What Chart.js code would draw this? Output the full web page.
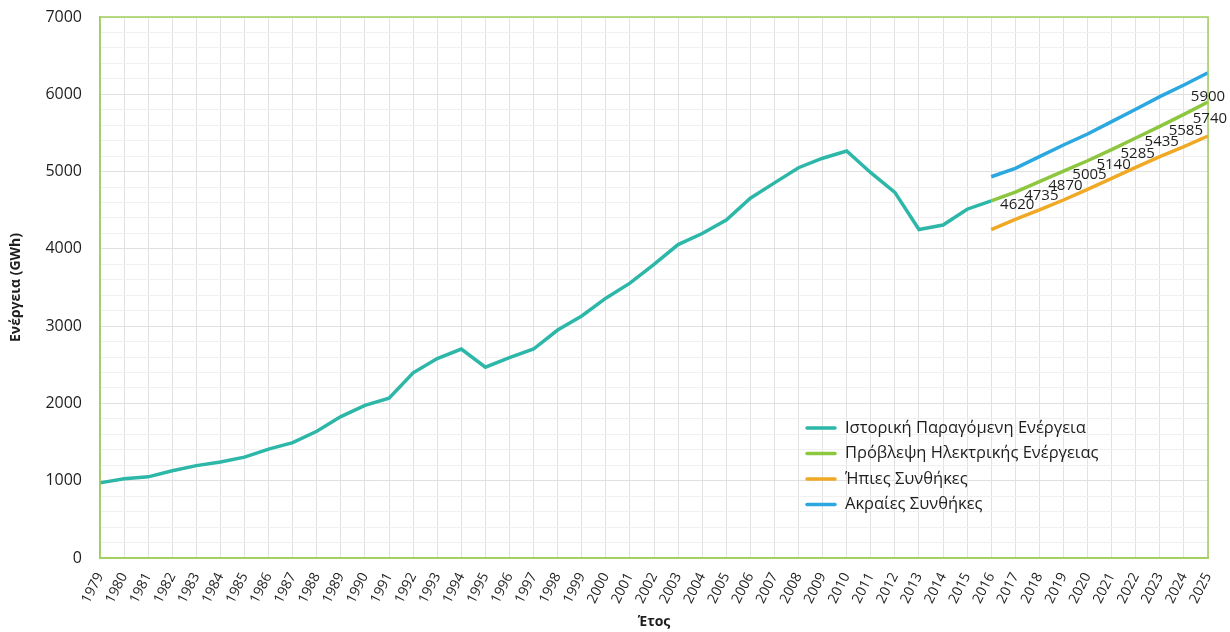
<!DOCTYPE html>
<html>
<head>
<meta charset="utf-8">
<script src="https://cdn.jsdelivr.net/npm/chart.js@4.4.0/dist/chart.umd.min.js"></script>
<style>
  html, body { margin: 0; padding: 0; background: #ffffff; }
  #wrap { width: 1230px; height: 632px; position: relative; }
</style>
</head>
<body>
<div id="wrap"><canvas id="c" width="1230" height="632"></canvas></div>
<script>
// ---- Data ----
const years = ['1979','1980','1981','1982','1983','1984','1985','1986','1987','1988','1989','1990','1991','1992','1993','1994','1995','1996','1997','1998','1999','2000','2001','2002','2003','2004','2005','2006','2007','2008','2009','2010','2011','2012','2013','2014','2015','2016','2017','2018','2019','2020','2021','2022','2023','2024','2025'];

const historical = [972, 1024, 1050, 1128, 1195, 1242, 1305, 1408, 1493, 1640, 1830, 1974, 2068, 2396, 2580, 2704, 2469, 2593, 2704, 2950, 3131, 3362, 3556, 3798, 4055, 4198, 4373, 4656, 4854, 5050, 5173, 5266, 4985, 4731, 4250, 4308, 4513, 4620];

// forecasts 2016..2025
const forecastYears = ['2016','2017','2018','2019','2020','2021','2022','2023','2024','2025'];
const forecast = [4620, 4735, 4870, 5005, 5140, 5285, 5435, 5585, 5740, 5900];
const mild =     [4250, 4382, 4503, 4632, 4770, 4913, 5055, 5193, 5322, 5460];
const extreme =  [4933, 5042, 5193, 5344, 5486, 5646, 5806, 5970, 6120, 6279];

const seriesNames = ['Ιστορική Παραγόμενη Ενέργεια', 'Πρόβλεψη Ηλεκτρικής Ενέργειας', 'Ήπιες Συνθήκες', 'Ακραίες Συνθήκες'];
const yTickLabels = [0, 1000, 2000, 3000, 4000, 5000, 6000, 7000];

// ---- helpers ----
function alignToYears(subYears, values) {
  return years.map(y => {
    const i = subYears.indexOf(y);
    return i >= 0 ? values[i] : null;
  });
}

const colors = ['#2db7a9', '#8dc63f', '#f0a925', '#2ba8e0'];
const textColor = '#1e1e1e';
const frameColor = '#9fcf5a';

const datasets = [
  { label: seriesNames[0], data: historical.concat(new Array(years.length - historical.length).fill(null)), borderColor: colors[0], backgroundColor: colors[0], order: 1 },
  { label: seriesNames[1], data: alignToYears(forecastYears, forecast), borderColor: colors[1], backgroundColor: colors[1], order: 2 },
  { label: seriesNames[2], data: alignToYears(forecastYears, mild), borderColor: colors[2], backgroundColor: colors[2], order: 3 },
  { label: seriesNames[3], data: alignToYears(forecastYears, extreme), borderColor: colors[3], backgroundColor: colors[3], order: 4 }
].map(d => Object.assign(d, { borderWidth: 3.5, pointRadius: 0, pointHoverRadius: 0, tension: 0, fill: false, spanGaps: false }));

// frame (top/right borders)
const framePlugin = {
  id: 'frame',
  afterDatasetsDraw(chart) {
    const { ctx, chartArea: a } = chart;
    ctx.save();
    ctx.strokeStyle = frameColor;
    ctx.lineWidth = 1.5;
    ctx.strokeRect(a.left, a.top, a.right - a.left, a.bottom - a.top);
    ctx.restore();
  }
};

// value labels on forecast series
const valueLabelPlugin = {
  id: 'valueLabels',
  afterDatasetsDraw(chart) {
    const { ctx, chartArea: a } = chart;
    const meta = chart.getDatasetMeta(1);
    const data = chart.data.datasets[1].data;
    ctx.save();
    ctx.font = '15px "Open Sans", sans-serif';
    ctx.fillStyle = textColor;
    ctx.textAlign = 'center';
    ctx.textBaseline = 'middle';
    meta.data.forEach((pt, i) => {
      const v = data[i];
      if (v === null || v === undefined) return;
      let x = pt.x + 26, y = pt.y + 4;
      if (x > a.right + 6) { x = pt.x; y = pt.y - 5; }
      ctx.fillText(String(v), x, y);
    });
    ctx.restore();
  }
};

// custom legend inside the plot
const legendPlugin = {
  id: 'innerLegend',
  afterDraw(chart) {
    const { ctx } = chart;
    const x0 = 805, y0 = 428, rowH = 25.5;
    ctx.save();
    ctx.font = '16.5px "Open Sans", sans-serif';
    ctx.textAlign = 'left';
    ctx.textBaseline = 'middle';
    chart.data.datasets.forEach((ds, i) => {
      const y = y0 + i * rowH;
      ctx.strokeStyle = ds.borderColor;
      ctx.lineWidth = 3.5;
      ctx.lineCap = 'round';
      ctx.beginPath();
      ctx.moveTo(x0 + 2, y);
      ctx.lineTo(x0 + 30, y);
      ctx.stroke();
      ctx.fillStyle = textColor;
      ctx.fillText(ds.label, x0 + 40, y);
    });
    ctx.restore();
  }
};

new Chart(document.getElementById('c'), {
  type: 'line',
  data: { labels: years, datasets },
  plugins: [framePlugin, valueLabelPlugin, legendPlugin],
  options: {
    responsive: false,
    animation: false,
    layout: { padding: { top: 17, right: 22, left: 0, bottom: 0 } },
    plugins: {
      legend: { display: false },
      tooltip: { enabled: false }
    },
    scales: {
      x: {
        offset: false,
        grid: { color: '#e2e2e2', lineWidth: 1, drawTicks: false },
        border: { color: frameColor, width: 1.5 },
        ticks: {
          autoSkip: false,
          maxRotation: 63,
          minRotation: 63,
          padding: 12,
          color: textColor,
          font: { family: '"Open Sans", sans-serif', size: 14 }
        },
        title: {
          display: true,
          text: 'Έτος',
          color: textColor,
          font: { family: '"Open Sans", sans-serif', size: 14, weight: 'bold' },
          padding: { top: 0, bottom: 2 }
        },
        afterFit(scale) { scale.height = 74; scale.paddingRight = 0; scale.paddingLeft = 0; }
      },
      y: {
        min: 0,
        max: 7000,
        grid: {
          drawTicks: true,
          tickLength: 11,
          tickColor: 'rgba(0,0,0,0)',
          color: (c) => (yTickLabels.includes(c.tick.value) ? '#e0e0e0' : '#f0f0f0'),
          lineWidth: 1
        },
        border: { color: frameColor, width: 1.5 },
        ticks: {
          stepSize: 200,
          autoSkip: false,
          padding: 7,
          color: textColor,
          font: { family: '"Open Sans", sans-serif', size: 16 },
          callback: (v) => (yTickLabels.includes(v) ? String(v) : '')
        },
        title: {
          display: true,
          text: 'Ενέργεια (GWh)',
          color: textColor,
          font: { family: '"Open Sans", sans-serif', size: 14, weight: 'bold' },
          padding: { top: 8, bottom: 4 }
        },
        afterFit(scale) { scale.width = 100; }
      }
    }
  }
});
</script>
</body>
</html>
